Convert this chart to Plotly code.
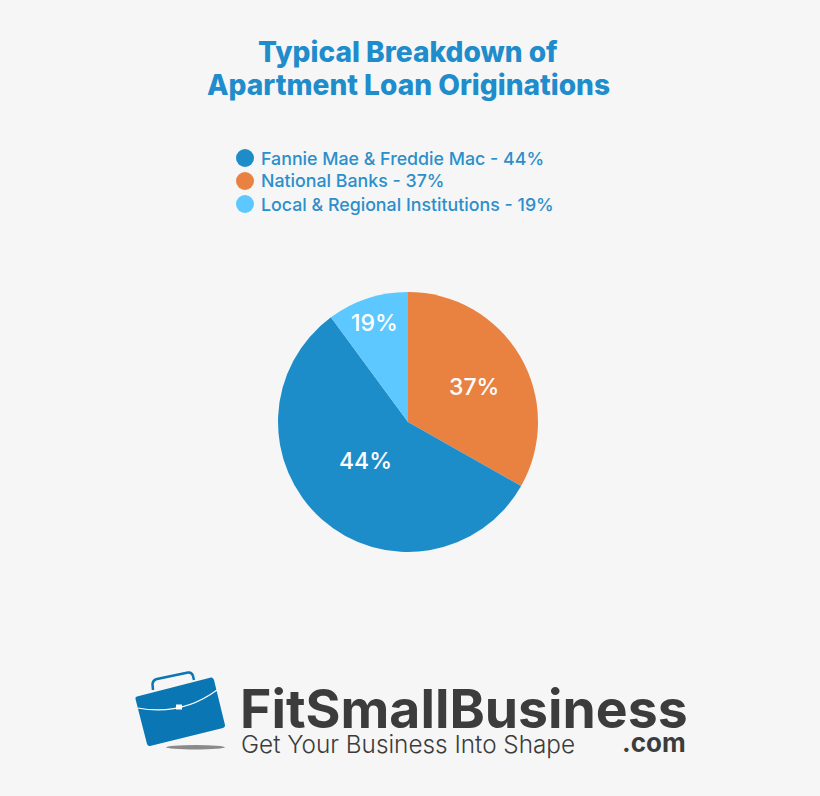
import plotly.graph_objects as go

W, H = 820, 796
title_lines = ["Typical Breakdown of", "Apartment Loan Originations"]
categories = ["National Banks", "Fannie Mae & Freddie Mac", "Local & Regional Institutions"]
# Slice sizes as drawn in the picture (they differ from the printed labels)
drawn_shares = [33.2, 56.7, 10.1]
printed_labels = ["37%", "44%", "19%"]
slice_colors = ["#E98240", "#1D8DCA", "#5CC8FF"]
legend_order = [1, 0, 2]

BG = "#F6F6F6"
TXT = "#2B8FCB"
DARK = "#3C3C3C"
LOGO_BLUE = "#0A76B4"
FONT = "Inter, 'Open Sans', sans-serif"


def px(x):
    return x / W


def py(y):
    return 1 - y / H


def path(cmds):
    out = []
    for c in cmds:
        if isinstance(c, str):
            out.append(c)
        else:
            out.append(f"{px(c[0]):.5f} {py(c[1]):.5f}")
    return " ".join(out)


def text(x, y, s, size, color, anchor="left", weight=400, family=FONT):
    return dict(
        x=px(x), y=py(y), xref="paper", yref="paper", text=s, showarrow=False,
        xanchor=anchor, yanchor="middle", align="center",
        font=dict(size=size, color=color, family=family, weight=weight),
    )


fig = go.Figure(
    go.Pie(
        labels=categories,
        values=drawn_shares,
        marker=dict(colors=slice_colors, line=dict(width=0)),
        sort=False,
        direction="clockwise",
        rotation=0,
        textinfo="none",
        hoverinfo="label",
        showlegend=False,
        domain=dict(x=[px(278), px(538)], y=[py(552), py(292)]),
    )
)

shapes = []
annotations = [
    text(408, 52, title_lines[0], 28.1, "#1F8CCB", "center", 800),
    text(408, 84.5, title_lines[1], 28.1, "#1F8CCB", "center", 800),
]

# Legend
legend_y = [158, 181, 204]
for y, idx in zip(legend_y, legend_order):
    shapes.append(dict(type="circle", xref="paper", yref="paper",
                       x0=px(236), x1=px(254), y0=py(y + 9), y1=py(y - 9),
                       fillcolor=slice_colors[idx], line=dict(width=0)))
    annotations.append(text(259, y, f"{categories[idx]} - {printed_labels[idx]}", 17.8, TXT, "left", 500))

# Slice labels
label_pos = [(474, 387), (365, 461), (374.5, 323)]
for (x, y), lab in zip(label_pos, printed_labels):
    annotations.append(text(x, y, lab, 23, "#FFFFFF", "center", 500))

# Briefcase logo
shapes += [
    dict(type="circle", xref="paper", yref="paper", x0=px(166), x1=px(225), y0=py(749.5), y1=py(745),
         fillcolor="#8A8A8A", line=dict(width=0)),
    dict(type="path", xref="paper", yref="paper",
         path=path(["M", (153, 690), "L", (152.5, 684), "Q", (153, 680), (157, 679), "L", (188, 672.5),
                    "Q", (192, 672), (193, 676), "L", (194, 680)]),
         line=dict(color=LOGO_BLUE, width=2.5)),
    dict(type="path", xref="paper", yref="paper",
         path=path(["M", (137, 696.5), "L", (211, 677.5), "Q", (213, 677), (214, 680), "L", (225, 725),
                    "Q", (225.5, 727), (223, 728), "L", (150, 746), "Q", (148, 746.5), (147, 744), "L", (135.5, 699), "Q", (135, 697), (137, 696.5), "Z"]),
         fillcolor=LOGO_BLUE, line=dict(width=0)),
    dict(type="path", xref="paper", yref="paper",
         path=path(["M", (137.5, 708), "Q", (182, 716), (217, 690)]),
         line=dict(color="#FFFFFF", width=1.1)),
    dict(type="rect", xref="paper", yref="paper", x0=px(176), x1=px(182), y0=py(709.5), y1=py(704.5),
         fillcolor="#FFFFFF", line=dict(width=0)),
]

annotations += [
    text(238, 708.5, "FitSmallBusiness", 53.5, DARK, "left", 700),
    text(238.5, 744, "Get Your Business Into Shape", 24.3, DARK, "left", 300),
    text(688, 742, ".com", 26, DARK, "right", 700),
]

fig.update_layout(
    width=W, height=H, autosize=False,
    margin=dict(l=0, r=0, t=0, b=0),
    paper_bgcolor=BG, plot_bgcolor=BG,
    shapes=shapes, annotations=annotations,
    showlegend=False,
)
fig.write_html(
    "out.html",
    config={"displayModeBar": False},
    post_script=f"document.body.style.margin='0';document.body.style.background='{BG}';",
)
